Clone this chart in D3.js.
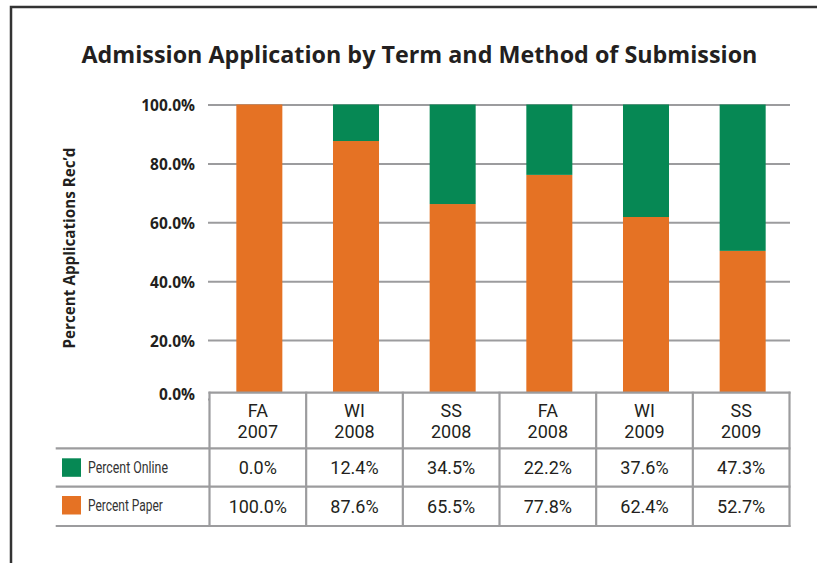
<!DOCTYPE html>
<html><head><meta charset="utf-8">
<script src="https://cdn.jsdelivr.net/npm/d3@7"></script>
<style>
html,body{margin:0;padding:0;background:#fff;}
svg{display:block;}
</style></head>
<body>
<script>
// ---- data ----
const title = "Admission Application by Term and Method of Submission";
const yTitle = "Percent Applications Rec\u2019d";
const termLine1 = ["FA","WI","SS","FA","WI","SS"];
const termLine2 = ["2007","2008","2008","2008","2009","2009"];
const categories = ["FA 2007","WI 2008","SS 2008","FA 2008","WI 2009","SS 2009"];
// bar heights as drawn in the picture (percent)
const paperValues  = [100, 87.6, 66.2, 76.1, 61.8, 50.3];
const onlineValues = [0, 12.4, 33.8, 23.9, 38.2, 49.7];
// values printed in the data table
const onlineLabels = ["0.0%","12.4%","34.5%","22.2%","37.6%","47.3%"];
const paperLabels  = ["100.0%","87.6%","65.5%","77.8%","62.4%","52.7%"];
const seriesNames  = ["Percent Online","Percent Paper"];
const yTicks = [0,20,40,60,80,100];

// ---- style ----
const W = 817, H = 563;
const ORANGE = "#e57224", GREEN = "#068854", TXT = "#231f20", GRID = "#9c9c9e";

const svg = d3.select("body").append("svg").attr("width", W).attr("height", H);

// frame
svg.append("path").attr("d", `M11,${H} L11,7 L${W},7`)
  .attr("fill","none").attr("stroke","#333").attr("stroke-width",2.5);

function fit(sel, target){
  const n = sel.node();
  const fs = parseFloat(sel.attr("font-size"));
  const len = n.getComputedTextLength();
  if (len > 0) sel.attr("font-size", (fs*target/len).toFixed(2));
}
// condense horizontally to a target width, keeping the glyph height
function squeeze(sel, target, x0, y0){
  const len = sel.node().getComputedTextLength();
  const k = len > 0 ? target/len : 1;
  sel.attr("x",0).attr("y",0).attr("transform",`translate(${x0},${y0}) scale(${k.toFixed(4)},1)`);
}

// title
const t = svg.append("text").attr("x", 81.5).attr("y", 63.3)
  .attr("font-family","Open Sans, sans-serif").attr("font-weight","bold")
  .attr("font-size",22).attr("fill",TXT).text(title);
fit(t, 676);

// scales
const left = 209.5, right = 789.5;
const y = d3.scaleLinear().domain([0,100]).range([399, 104.5]);
const col = d3.scaleBand().domain(categories).range([left, right]).padding(0);
const barW = col.bandwidth()*0.476;

// gridlines / axis
const axisG = svg.append("g").attr("transform","translate(208,0)")
  .call(d3.axisLeft(y).tickValues(yTicks).tickSize(-(790-208)).tickPadding(13)
        .tickFormat(d => d.toFixed(1) + "%"));
axisG.select(".domain").remove();
axisG.selectAll(".tick line").attr("stroke",GRID).attr("stroke-width",2);
axisG.selectAll(".tick text").attr("font-family","Open Sans, sans-serif")
  .attr("font-weight","bold").attr("font-size",15.5).attr("fill",TXT)
  .attr("dy", d => d === 0 ? "0.0em" : "0.4em");

// y title
const yt = svg.append("text").attr("transform","translate(75,248) rotate(-90)")
  .attr("text-anchor","middle").attr("font-family","Open Sans, sans-serif")
  .attr("font-weight","bold").attr("font-size",14).attr("fill",TXT).text(yTitle);
fit(yt, 201);

// stacked bars
const rows = categories.map((c,i)=>({cat:c, paper:paperValues[i], online:onlineValues[i]}));
const stack = d3.stack().keys(["paper","online"])(rows);
const colors = {paper: ORANGE, online: GREEN};
svg.append("g").selectAll("g").data(stack).join("g")
  .attr("fill", d => colors[d.key])
  .selectAll("rect").data(d => d).join("rect")
  .attr("x", d => col(d.data.cat) + (col.bandwidth()-barW)/2 + 1.5)
  .attr("width", barW)
  .attr("y", d => y(d[1]))
  .attr("height", d => Math.max(0, y(d[0]) - y(d[1])));

// data table
const rTop = 392.7, rHead = 448.3, rOn = 486.7, rBot = 526, tLeft = 55.7;
const tab = svg.append("g");
tab.append("rect").attr("x",left).attr("y",rTop).attr("width",right-left).attr("height",rHead-rTop).attr("fill","#fff");
const lineAttr = s => s.attr("stroke",GRID).attr("stroke-width",2.2);
lineAttr(tab.append("line").attr("x1",left-1).attr("x2",right+1).attr("y1",rTop).attr("y2",rTop));
[rHead, rOn, rBot].forEach(yy => lineAttr(tab.append("line").attr("x1",tLeft).attr("x2",right+1).attr("y1",yy).attr("y2",yy)));
categories.concat(["end"]).forEach((c,i)=>{
  const xx = i < categories.length ? col(c) : right;
  lineAttr(tab.append("line").attr("x1",xx).attr("x2",xx).attr("y1",rTop-1).attr("y2",rBot+1));
});
const cellFont = s => s.attr("font-family","Roboto, sans-serif").attr("font-size",18).attr("fill",TXT).attr("text-anchor","middle");
categories.forEach((c,i)=>{
  const cx = col(c) + col.bandwidth()/2;
  cellFont(tab.append("text").attr("x",cx).attr("y",416.5)).text(termLine1[i]);
  cellFont(tab.append("text").attr("x",cx).attr("y",438)).text(termLine2[i]);
  cellFont(tab.append("text").attr("x",cx).attr("y",473.8)).text(onlineLabels[i]);
  cellFont(tab.append("text").attr("x",cx).attr("y",512.5)).text(paperLabels[i]);
});

// legend keys
const legY = [458.3, 496];
const legColors = [GREEN, ORANGE];
seriesNames.forEach((name,i)=>{
  tab.append("rect").attr("x",62).attr("y",legY[i]).attr("width",19).attr("height",18.5).attr("fill",legColors[i]);
  const lt = tab.append("text")
    .attr("font-family","Roboto, sans-serif").attr("font-size",17).attr("fill","#333").text(name);
  squeeze(lt, i===0 ? 80 : 75, 88, legY[i]+15);
});
</script>
</body></html>
